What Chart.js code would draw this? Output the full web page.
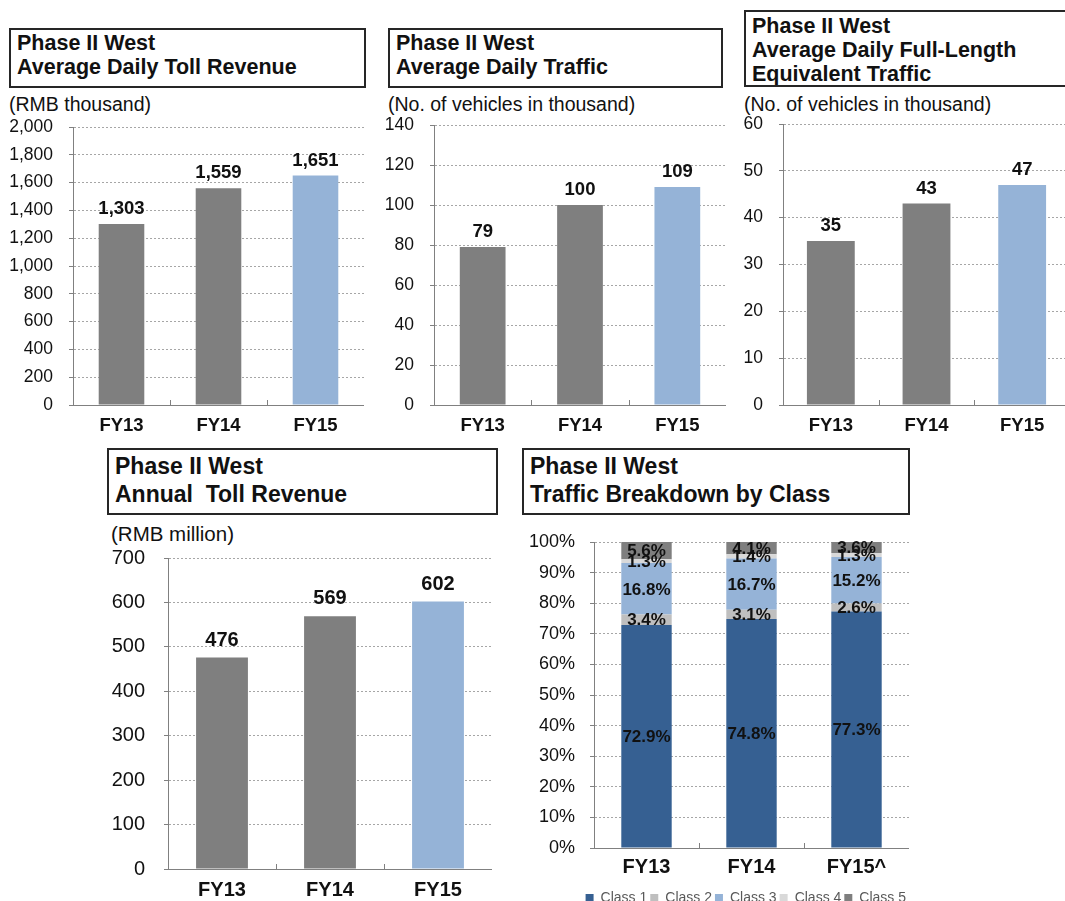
<!DOCTYPE html>
<html>
<head>
<meta charset="utf-8">
<script src="https://cdn.jsdelivr.net/npm/chart.js@4.4.1/dist/chart.umd.min.js"></script>
<style>
    html, body { margin: 0; padding: 0; background: #fff; overflow: hidden; }
    body { width: 1065px; height: 901px; position: relative; font-family: "Liberation Sans", Arial, sans-serif; }
    .box {
        position: absolute; box-sizing: border-box; border: 2px solid #262626;
        font-weight: bold; font-size: 21.5px; line-height: 24px; color: #111;
        padding: 1px 0 0 6px; white-space: nowrap; overflow: hidden;
    }
    .box.big { font-size: 23px; line-height: 28px; padding-top: 2px; }
    .unit { position: absolute; font-size: 19.5px; line-height: 22px; color: #111; white-space: nowrap; }
    canvas { position: absolute; }
</style>
</head>
<body>

<div class="box" style="left:9px;top:28px;width:357px;height:60px;">Phase II West<br>Average Daily Toll Revenue</div>
<div class="box" style="left:388px;top:28px;width:335px;height:60px;">Phase II West<br>Average Daily Traffic</div>
<div class="box" style="left:744px;top:10px;width:330px;height:77px;padding-top:2px;">Phase II West<br>Average Daily Full-Length<br>Equivalent Traffic</div>
<div class="box big" style="left:107px;top:448px;width:391px;height:67px;">Phase II West<br>Annual&nbsp; Toll Revenue</div>
<div class="box big" style="left:522px;top:448px;width:388px;height:67px;">Phase II West<br>Traffic Breakdown by Class</div>

<div class="unit" style="left:9px;top:93px;">(RMB thousand)</div>
<div class="unit" style="left:388px;top:93px;">(No. of vehicles in thousand)</div>
<div class="unit" style="left:744px;top:93px;">(No. of vehicles in thousand)</div>
<div class="unit" style="left:111px;top:523px;font-size:20.5px;">(RMB million)</div>

<canvas id="c1"></canvas>
<canvas id="c2"></canvas>
<canvas id="c3"></canvas>
<canvas id="c4"></canvas>
<canvas id="c5"></canvas>

<script>
// Фінансові роки
const years = ['FY13', 'FY14', 'FY15'];
const classYears = ['FY13', 'FY14', 'FY15^'];

// Середньодобовий дохід (тис. юанів)
const dailyRevenue = [1303, 1559, 1651];
// Середньодобовий трафік (тис. авто)
const dailyTraffic = [79, 100, 109];
// Еквівалент повної довжини (тис. авто)
const fullLengthTraffic = [35, 43, 47];
// Річний дохід (млн юанів)
const annualRevenue = [476, 569, 602];

// Структура трафіку по класах, %
const classNames = ['Class 1', 'Class 2', 'Class 3', 'Class 4', 'Class 5'];
const class1 = [72.9, 74.8, 77.3];
const class2 = [3.4, 3.1, 2.6];
const class3 = [16.8, 16.7, 15.2];
const class4 = [1.3, 1.4, 1.3];
const class5 = [5.6, 4.1, 3.6];

const FONT = '"Liberation Sans", Arial, sans-serif';
const GREY = '#7f7f7f';
const LIGHT_BLUE = '#95b3d7';
const barColors = [GREY, GREY, LIGHT_BLUE];
const classColors = ['#366092', '#bfbfbf', '#95b3d7', '#d9d9d9', '#7f7f7f'];

// Підписи значень над стовпцями
const valueLabels = {
    id: 'valueLabels',
    afterDatasetsDraw(chart, args, opts) {
        if (!opts.show) return;
        const ctx = chart.ctx;
        ctx.save();
        ctx.font = 'bold ' + opts.size + 'px ' + FONT;
        ctx.fillStyle = '#111';
        ctx.textAlign = 'center';
        ctx.textBaseline = 'alphabetic';
        chart.getDatasetMeta(0).data.forEach((bar, i) => {
            const v = chart.data.datasets[0].data[i];
            ctx.fillText(v.toLocaleString('en-US'), bar.x, bar.y - opts.gap);
        });
        ctx.restore();
    }
};

// Підписи у сегментах стеку
const stackLabels = {
    id: 'stackLabels',
    afterDatasetsDraw(chart, args, opts) {
        if (!opts.show) return;
        const ctx = chart.ctx;
        ctx.save();
        ctx.font = 'bold 17px ' + FONT;
        ctx.fillStyle = '#111';
        ctx.textAlign = 'center';
        ctx.textBaseline = 'middle';
        chart.data.datasets.forEach((ds, di) => {
            chart.getDatasetMeta(di).data.forEach((bar, i) => {
                const mid = (bar.y + bar.base) / 2;
                ctx.fillText(ds.data[i].toFixed(1) + '%', bar.x, mid + 1);
            });
        });
        ctx.restore();
    }
};

// Короткі риски між категоріями, всередину графіка
const innerTicks = {
    id: 'innerTicks',
    afterDraw(chart) {
        const x = chart.scales.x;
        const ctx = chart.ctx;
        ctx.save();
        ctx.strokeStyle = '#808080';
        ctx.lineWidth = 1;
        for (let i = 1; i <= x.ticks.length; i++) {
            const px = Math.round(x.getPixelForValue(i - 0.5)) + 0.5;
            ctx.beginPath();
            ctx.moveTo(px, chart.chartArea.bottom);
            ctx.lineTo(px, chart.chartArea.bottom - 5);
            ctx.stroke();
        }
        ctx.restore();
    }
};

Chart.register(valueLabels, stackLabels, innerTicks);

// Розмістити canvas так, щоб область графіка мала задані межі
function placeCanvas(id, box) {
    const el = document.getElementById(id);
    const left = box.left - box.yWidth;
    const top = box.top - 14;
    const w = box.right - left;
    const h = (box.bottom - top) + box.xHeight + (box.extra || 0);
    el.style.left = left + 'px';
    el.style.top = top + 'px';
    el.width = w;
    el.height = h;
    el.style.width = w + 'px';
    el.style.height = h + 'px';
    return el;
}

function axes(box, yMax, step, tickFmt) {
    return {
        x: {
            grid: { display: false, drawTicks: false },
            border: { color: '#808080', width: 1 },
            ticks: { color: '#111', font: { family: FONT, size: box.xFont, weight: 'bold' }, padding: box.xPad },
            afterFit(s) {
                s.height = box.xHeight;
                s.paddingLeft = 0; s.paddingRight = 0;
            }
        },
        y: {
            min: 0, max: yMax,
            grid: { color: '#a6a6a6', lineWidth: 1, tickLength: 4, tickColor: '#808080' },
            border: { color: '#808080', width: 1, dash: [2, 2] },
            ticks: {
                stepSize: step, color: '#111', padding: box.tickPad,
                font: { family: FONT, size: box.yFont },
                callback: tickFmt
            },
            afterFit(s) {
                s.width = box.yWidth;
                s.paddingTop = 0; s.paddingBottom = 0;
            }
        }
    };
}

function makeBar(id, box, labels, values, yMax, step, tickFmt, barPct) {
    const el = placeCanvas(id, box);
    return new Chart(el, {
        type: 'bar',
        data: {
            labels,
            datasets: [{
                data: values,
                backgroundColor: barColors,
                borderWidth: 0,
                categoryPercentage: 1,
                barPercentage: barPct
            }]
        },
        options: {
            responsive: false,
            animation: false,
            layout: { padding: { top: 14, right: 0, left: 0, bottom: 0 } },
            plugins: {
                legend: { display: false },
                tooltip: { enabled: false },
                valueLabels: { show: true, size: box.valFont, gap: box.valGap },
                stackLabels: { show: false }
            },
            scales: axes(box, yMax, step, tickFmt)
        }
    });
}

const thousands = v => v.toLocaleString('en-US');

const small = { xHeight: 36, tickPad: 16, yFont: 17.5, xFont: 18.5, xPad: 10, valFont: 18.5, valGap: 10 };
const box1 = Object.assign({ left: 73, top: 127, right: 364, bottom: 405, yWidth: 73 }, small);
const box2 = Object.assign({ left: 434, top: 125, right: 726, bottom: 405, yWidth: 60 }, small);
const box3 = Object.assign({ left: 783, top: 124, right: 1070, bottom: 405, yWidth: 60 }, small);
const box4 = { left: 168, top: 558, right: 492, bottom: 869, yWidth: 80, xHeight: 36, tickPad: 19,
               yFont: 20, xFont: 20, xPad: 9, valFont: 20, valGap: 12 };
const box5 = { left: 594, top: 542, right: 909, bottom: 847, yWidth: 80, xHeight: 40, tickPad: 15,
               yFont: 18, xFont: 20, xPad: 7, extra: 28 };

makeBar('c1', box1, years, dailyRevenue, 2000, 200, thousands, 0.47);
makeBar('c2', box2, years, dailyTraffic, 140, 20, thousands, 0.47);
makeBar('c3', box3, years, fullLengthTraffic, 60, 10, thousands, 0.5);
makeBar('c4', box4, years, annualRevenue, 700, 100, thousands, 0.48);

// Структура трафіку по класах
(function () {
    const el = placeCanvas('c5', box5);
    const opts = axes(box5, 100, 10, v => v + '%');
    opts.x.stacked = true;
    opts.y.stacked = true;
    const series = [class1, class2, class3, class4, class5];
    new Chart(el, {
        type: 'bar',
        data: {
            labels: classYears,
            datasets: series.map((d, i) => ({
                label: classNames[i],
                data: d,
                backgroundColor: classColors[i],
                borderWidth: 0,
                categoryPercentage: 1,
                barPercentage: 0.48
            }))
        },
        options: {
            responsive: false,
            animation: false,
            layout: { padding: { top: 14, right: 0, left: 0, bottom: 0 } },
            plugins: {
                legend: {
                    display: true,
                    position: 'bottom',
                    align: 'end',
                    labels: {
                        boxWidth: 8, boxHeight: 8, padding: 3,
                        color: '#595959',
                        font: { family: FONT, size: 14 }
                    }
                },
                tooltip: { enabled: false },
                valueLabels: { show: false },
                stackLabels: { show: true }
            },
            scales: opts
        }
    });
})();
</script>
</body>
</html>
